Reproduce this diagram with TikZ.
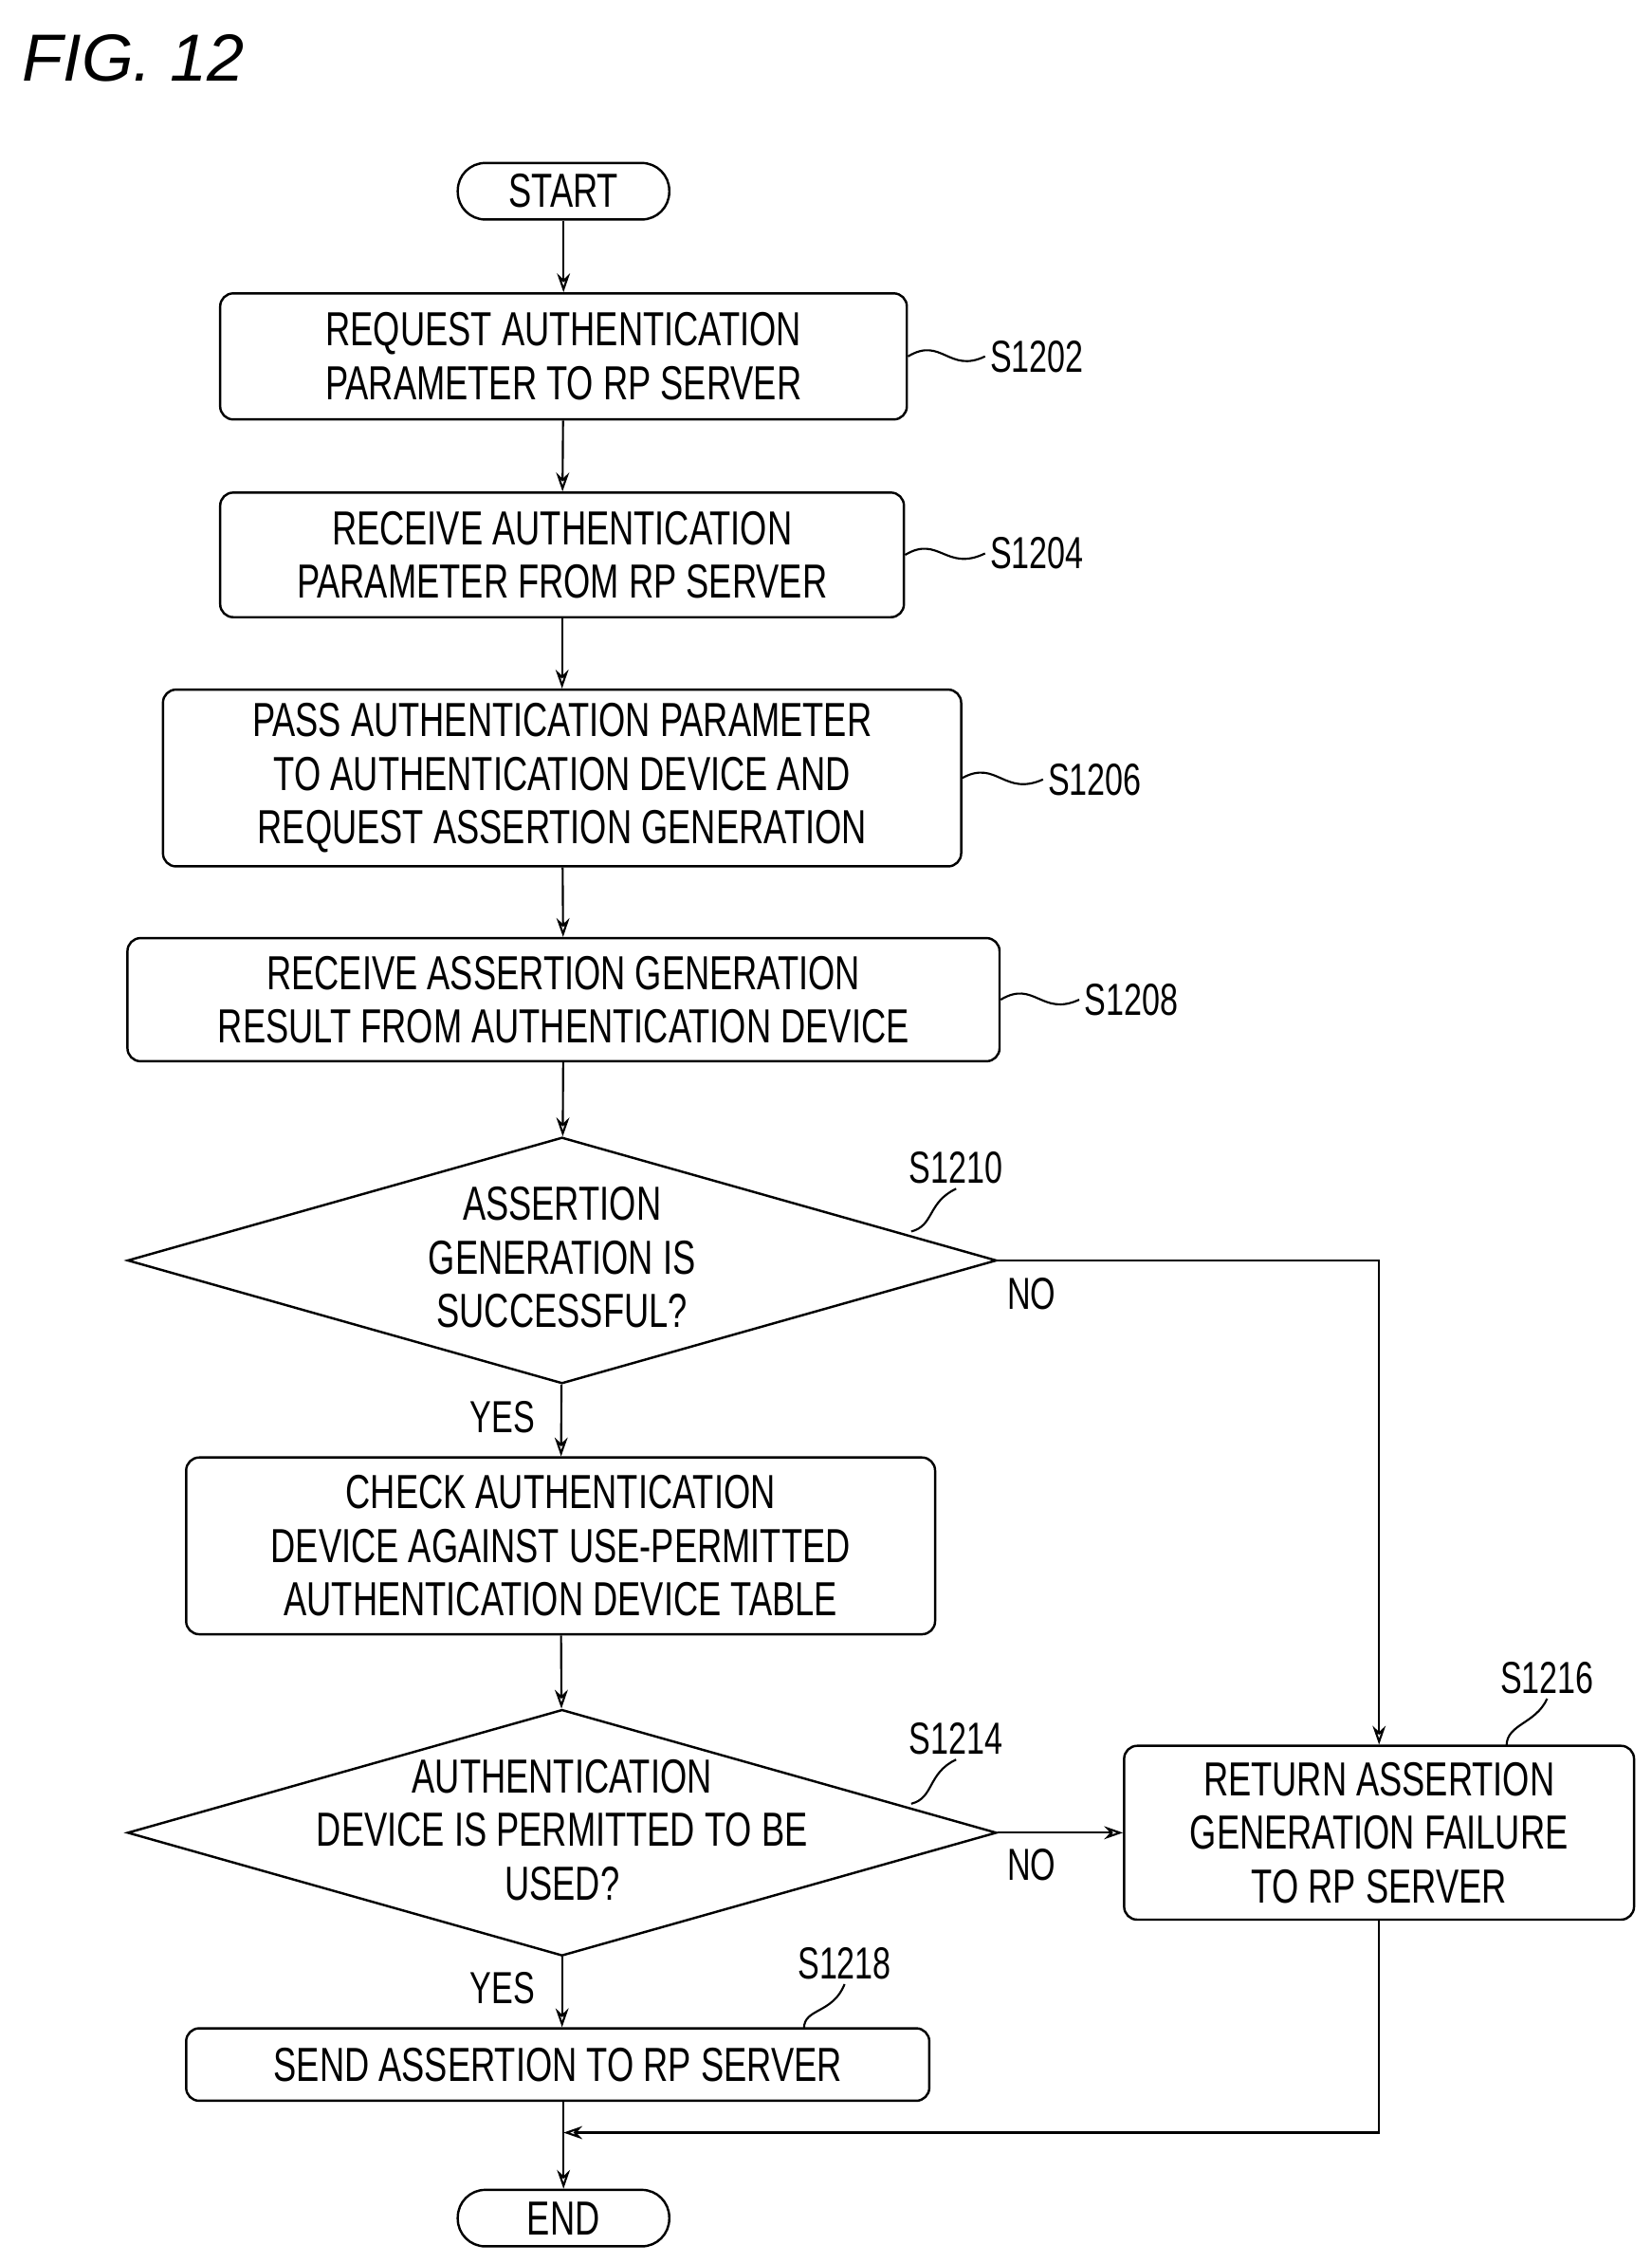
\documentclass[tikz,border=0pt]{standalone}
\usepackage{fontspec}
\setmainfont[FakeStretch=0.72]{Liberation Sans}
\newfontfamily\figfont{Liberation Sans}
\usetikzlibrary{shapes.geometric,arrows.meta}
\begin{document}
\begin{tikzpicture}[x=1pt,y=-1pt,
  every node/.style={font=\fontsize{33}{37}\selectfont},
  box/.style={draw,line width=1.6pt,rounded corners=9pt,align=center,inner sep=0pt},
  pill/.style={draw,line width=1.6pt,rounded corners=19pt,minimum width=146pt,minimum height=39pt,inner sep=0pt},
  dia/.style={draw,line width=1.6pt,diamond,aspect=3.53,minimum width=600pt,minimum height=170pt,inner sep=0pt},
  dtext/.style={align=center,inner sep=0pt},
  arr/.style={line width=1.4pt,-{Stealth[length=13pt,width=9pt,open]}},
  ln/.style={line width=1.4pt},
  lab/.style={font=\fontsize{31}{36}\selectfont}]
\useasboundingbox (0,0) rectangle (1140,1562);
\node[font=\figfont\itshape\fontsize{46}{50}\selectfont,anchor=west] (fig) at (12,40) {FIG. 12};
\node[pill] (start) at (389,132) {START};
\node[box,minimum width=474pt,minimum height=87pt] (a) at (389,246) {REQUEST AUTHENTICATION\\PARAMETER TO RP SERVER};
\node[box,minimum width=472pt,minimum height=86pt] (b) at (388,383) {RECEIVE AUTHENTICATION\\PARAMETER FROM RP SERVER};
\node[box,minimum width=551pt,minimum height=122pt] (c) at (388,537) {PASS AUTHENTICATION PARAMETER\\TO AUTHENTICATION DEVICE AND\\REQUEST ASSERTION GENERATION};
\node[box,minimum width=602pt,minimum height=85pt] (d) at (389,690) {RECEIVE ASSERTION GENERATION\\RESULT FROM AUTHENTICATION DEVICE};
\node[dia] (e) at (388,870) {};
\node[dtext] (et) at (388,868) {ASSERTION\\GENERATION IS\\SUCCESSFUL?};
\node[box,minimum width=517pt,minimum height=122pt] (f) at (387,1067) {CHECK AUTHENTICATION\\DEVICE AGAINST USE-PERMITTED\\AUTHENTICATION DEVICE TABLE};
\node[dia] (g) at (388,1265) {};
\node[dtext] (gt) at (388,1263) {AUTHENTICATION\\DEVICE IS PERMITTED TO BE\\USED?};
\node[box,minimum width=352pt,minimum height=120pt] (h) at (952,1265) {RETURN ASSERTION\\GENERATION FAILURE\\TO RP SERVER};
\node[box,minimum width=513pt,minimum height=50pt] (i) at (385,1425) {SEND ASSERTION TO RP SERVER};
\node[pill] (end) at (389,1531) {END};
% labels
\node[lab,anchor=west] (la) at (680,246) {S1202};
\node[lab,anchor=west] (lb) at (680,382) {S1204};
\node[lab,anchor=west] (lc) at (720,538) {S1206};
\node[lab,anchor=west] (ld) at (745,690) {S1208};
\node[lab] (le) at (660,806) {S1210};
\node[lab] (lg) at (660,1200) {S1214};
\node[lab] (lh) at (1068,1158) {S1216};
\node[lab] (li) at (583,1355) {S1218};
\node[lab] (no1) at (712,893) {NO};
\node[lab] (no2) at (712,1287) {NO};
\node[lab] (y1) at (347,978) {YES};
\node[lab] (y2) at (347,1372) {YES};
% leaders
\draw[ln] (a.east) .. controls (650,232) and (655,258) .. (la.west);
\draw[ln] (b.east) .. controls (648,369) and (653,395) .. (lb.west);
\draw[ln] (c.east) .. controls (688,524) and (693,550) .. (lc.west);
\draw[ln] (d.east) .. controls (714,676) and (719,702) .. (ld.west);
\draw[ln] (629,850) .. controls (645,846) and (640,830) .. (le.south);
\draw[ln] (629,1245) .. controls (645,1241) and (640,1224) .. (lg.south);
\draw[ln] (1040,1205) .. controls (1040,1190) and (1060,1190) .. (lh.south);
\draw[ln] (555,1400) .. controls (555,1386) and (575,1390) .. (li.south);
% flow
\draw[arr] (start) -- (a);
\draw[arr] (a) -- (b);
\draw[arr] (b) -- (c);
\draw[arr] (c) -- (d);
\draw[arr] (d) -- (e);
\draw[arr] (e) -- (f);
\draw[arr] (f) -- (g);
\draw[arr] (g) -- (i.north -| g);
\draw[arr] (e.east) -| (h.north);
\draw[arr] (g.east) -- (h.west);
\coordinate (j) at (389,1472);
\draw[ln] (i.south -| j) -- (j);
\draw[arr] (h.south) |- (j);
\draw[arr] (j) -- (end);
\end{tikzpicture}
\end{document}
